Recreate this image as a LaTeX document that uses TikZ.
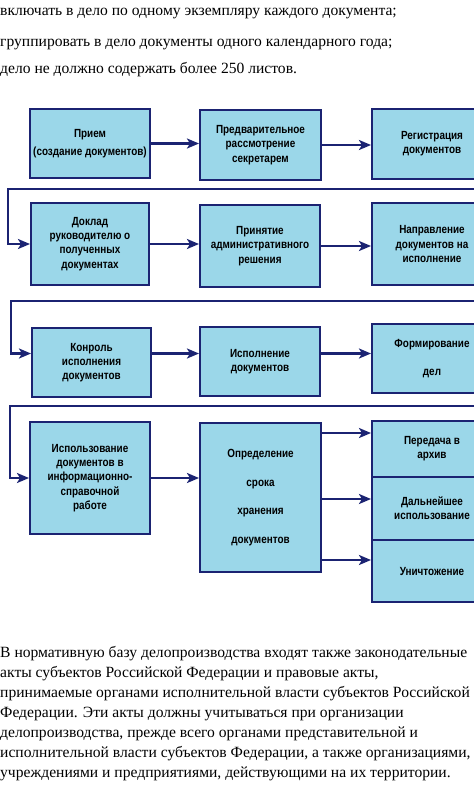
\documentclass[tikz,border=0pt]{standalone}
\usepackage{fontspec}
\setmainfont{Liberation Serif}
\newfontfamily\boxfont[FakeStretch=0.84]{Liberation Sans}
\usetikzlibrary{arrows.meta}
\definecolor{boxblue}{HTML}{9BD7E9}
\definecolor{navy}{HTML}{1B2372}

\begin{document}
\begin{tikzpicture}[x=1pt,y=-1pt]
      \tikzset{box/.style = {shape=rectangle,draw=navy,line width=2pt,fill=boxblue,align=center,inner sep=0pt,
          font=\boxfont\bfseries\fontsize{11.8}{14.3}\selectfont}}
      \tikzset{flow/.style = {draw=navy,line width=2.4pt,-{Stealth[length=12pt,width=10pt,inset=3pt]}}}
      \tikzset{txt/.style = {anchor=base west,inner sep=0pt,align=left,font=\fontsize{15.6}{20}\selectfont}}
      \useasboundingbox (0,0) rectangle (474,796);
      \clip (0,0) rectangle (474,796);

      \node[txt] (s1) at (0,15) {включать в дело по одному экземпляру каждого документа;};
      \node[txt] (s2) at (0,46) {группировать в дело документы одного календарного года;};
      \node[txt] (s3) at (0,73) {дело не должно содержать более 250 листов.};

      % row 1
      \node[box,minimum width=120pt,minimum height=69pt] (priem) at (90,143.5) {Прием\\[4pt](создание документов)};
      \node[box,minimum width=121pt,minimum height=70pt] (predv) at (260.5,145) {Предварительное\\рассмотрение\\секретарем};
      \node[box,minimum width=120pt,minimum height=70pt] (reg) at (432,144) {Регистрация\\документов};

      % row 2
      \node[box,minimum width=118pt,minimum height=82pt] (doklad) at (90,244) {Доклад\\руководителю о\\полученных\\документах};
      \node[box,minimum width=120pt,minimum height=82pt] (prin) at (260,246) {Принятие\\административного\\решения};
      \node[box,minimum width=120pt,minimum height=82pt] (napr) at (432,244) {Направление\\документов на\\исполнение};

      % row 3
      \node[box,minimum width=119pt,minimum height=69pt] (kontr) at (91.5,362.5) {Конроль\\исполнения\\документов};
      \node[box,minimum width=120pt,minimum height=69pt] (ispoln) at (260,361.5) {Исполнение\\документов};
      \node[box,minimum width=120pt,minimum height=69pt] (form) at (432,358.5) {Формирование\\[14.3pt]дел};

      % row 4
      \node[box,minimum width=120pt,minimum height=112pt] (ispolz) at (90,478) {Использование\\документов в\\информационно-\\справочной\\работе};
      \node[box,minimum width=121pt,minimum height=149pt] (opred) at (260.5,497.5) {Определение\\[14.3pt]срока\\[14.3pt]хранения\\[14.3pt]документов};
      \node[box,minimum width=120pt,minimum height=56pt] (arkhiv) at (432,449) {Передача в\\архив};
      \node[box,minimum width=120pt,minimum height=63pt] (dalnei) at (432,508.5) {Дальнейшее\\использование};
      \node[box,minimum width=120pt,minimum height=62pt] (unicht) at (432,571) {Уничтожение};

      \node[txt] (par) at (0,777) {В нормативную базу делопроизводства входят также законодательные\\
        акты субъектов Российской Федерации и правовые акты,\\
        принимаемые органами исполнительной власти субъектов Российской\\
        Федерации. Эти акты должны учитываться при организации\\
        делопроизводства, прежде всего органами представительной и\\
        исполнительной власти субъектов Федерации, а также организациями,\\
        учреждениями и предприятиями, действующими на их территории.};

      \coordinate (back1) at (8,189);
      \coordinate (back2) at (11,301);
      \coordinate (back3) at (10,406);

      \draw[flow] (priem.east) -- (priem.east -| predv.west);
      \draw[flow] (predv.east) -- (predv.east -| reg.west);
      \draw[flow] (reg.east) -- ++(10,0) |- (back1) |- (doklad.west);

      \draw[flow] (doklad.east) -- (doklad.east -| prin.west);
      \draw[flow] (prin.east) -- (prin.east -| napr.west);
      \draw[flow] (napr.east) -- ++(10,0) |- (back2) |- ([yshift=9pt]kontr.west);

      \draw[flow] ([yshift=9pt]kontr.east) -- ([yshift=9pt]kontr.east -| ispoln.west);
      \draw[flow] ([yshift=8pt]ispoln.east) -- ([yshift=8pt]ispoln.east -| form.west);
      \draw[flow] (form.east) -- ++(10,0) |- (back3) |- (ispolz.west);

      \draw[flow] (ispolz.east) -- (ispolz.east -| opred.west);
      \draw[flow] ([yshift=16pt]arkhiv.west -| opred.east) -- ([yshift=16pt]arkhiv.west);
      \draw[flow] ([yshift=9.5pt]dalnei.west -| opred.east) -- ([yshift=9.5pt]dalnei.west);
      \draw[flow] ([yshift=11pt]unicht.west -| opred.east) -- ([yshift=11pt]unicht.west);
    \end{tikzpicture}
\end{document}
